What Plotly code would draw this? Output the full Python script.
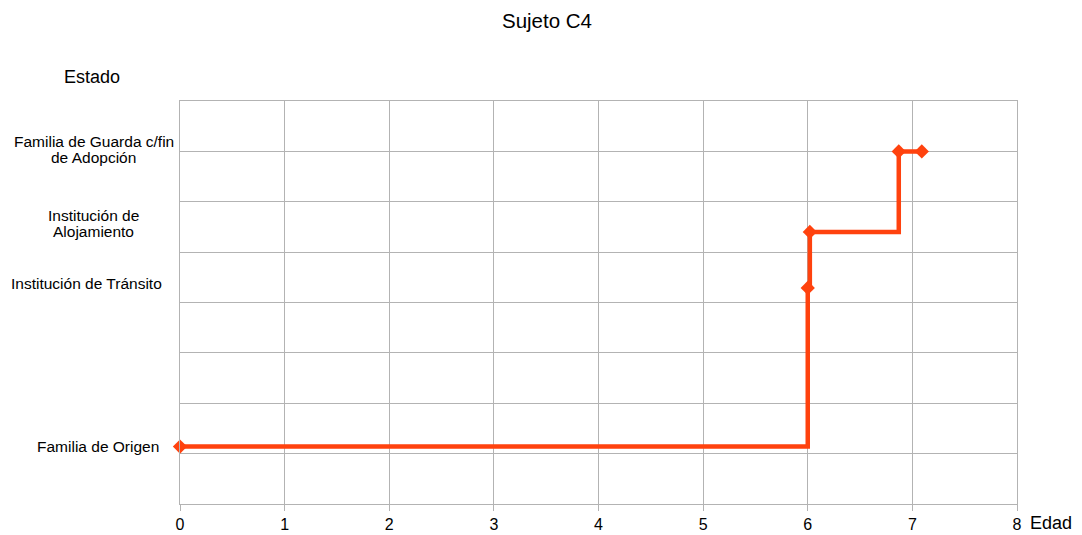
import plotly.graph_objects as go

# Data
edad = [0, 6.0, 6.02, 6.87, 7.09]
estado = [1.14, 4.29, 5.40, 7.0, 7.0]

state_labels = [["Familia de Origen"],
                ["Institución de Tránsito"],
                ["Institución de", "Alojamiento"],
                ["Familia de Guarda c/fin", "de Adopción"]]
state_levels = [1.151, 4.373, 5.566, 7.047]
label_centers_px = [98.3, 86.7, 93.0, 93.5]  # horizontal centre of each label, in page pixels

x_ticks = [0, 1, 2, 3, 4, 5, 6, 7, 8]

FONT = "Liberation Sans, Arial, sans-serif"
GRID = "#b3b3b3"
ORANGE = "#ff420e"
LINE_GAP = 16

W, H = 1082, 535
L, T, PW, PH = 180, 101, 837, 403
R = W - L - PW
B = H - T - PH

fig = go.Figure()
fig.add_trace(go.Scatter(
    x=edad, y=estado, mode="lines+markers",
    line=dict(shape="hv", color=ORANGE, width=4.5),
    marker=dict(symbol="diamond", size=11, color=ORANGE),
    showlegend=False, cliponaxis=False,
))

for lines, lev, cx in zip(state_labels, state_levels, label_centers_px):
    n = len(lines)
    for i, ln in enumerate(lines):
        shift = ((n - 1) / 2 - i) * LINE_GAP
        fig.add_annotation(x=(cx - L) / PW, y=lev, xref="paper", yref="y", text=ln,
                           showarrow=False, xanchor="center", yanchor="middle",
                           yshift=shift,
                           font=dict(family=FONT, size=15.5, color="#000"))

fig.add_annotation(x=(92 - L) / PW, y=(T + PH - 77) / PH, xref="paper", yref="paper",
                   text="Estado", showarrow=False, xanchor="center", yanchor="middle",
                   font=dict(family=FONT, size=18, color="#000"))
fig.add_annotation(x=(1051 - L) / PW, y=(T + PH - 534) / PH, xref="paper", yref="paper",
                   text="Edad", showarrow=False, xanchor="center", yanchor="bottom",
                   borderpad=0,
                   font=dict(family=FONT, size=18, color="#000"))

fig.update_layout(
    width=W, height=H,
    margin=dict(l=L, r=R, t=T, b=B, autoexpand=False),
    paper_bgcolor="white", plot_bgcolor="white",
    title=dict(text="Sujeto C4", x=547 / W, xanchor="center", xref="container",
               y=1 - 21 / H, yanchor="middle", yref="container",
               font=dict(family=FONT, size=20.5, color="#000")),
    font=dict(family=FONT, color="#000"),
)
fig.update_xaxes(range=[0, 8], tickvals=x_ticks, ticktext=[str(v) for v in x_ticks],
                 showgrid=True, gridcolor=GRID, gridwidth=1, zeroline=False,
                 showline=True, linecolor=GRID, mirror=True, automargin=False,
                 ticks="outside", ticklen=6, tickcolor=GRID,
                 tickfont=dict(family=FONT, size=16, color="#000"))
fig.update_yaxes(range=[0, 8], dtick=1, showticklabels=False, automargin=False,
                 showgrid=True, gridcolor=GRID, gridwidth=1, zeroline=False,
                 showline=True, linecolor=GRID, mirror=True, ticks="")

fig.write_html("out.html", config={"displayModeBar": False},
               post_script="document.body.style.margin='0';document.body.style.overflow='hidden';")
